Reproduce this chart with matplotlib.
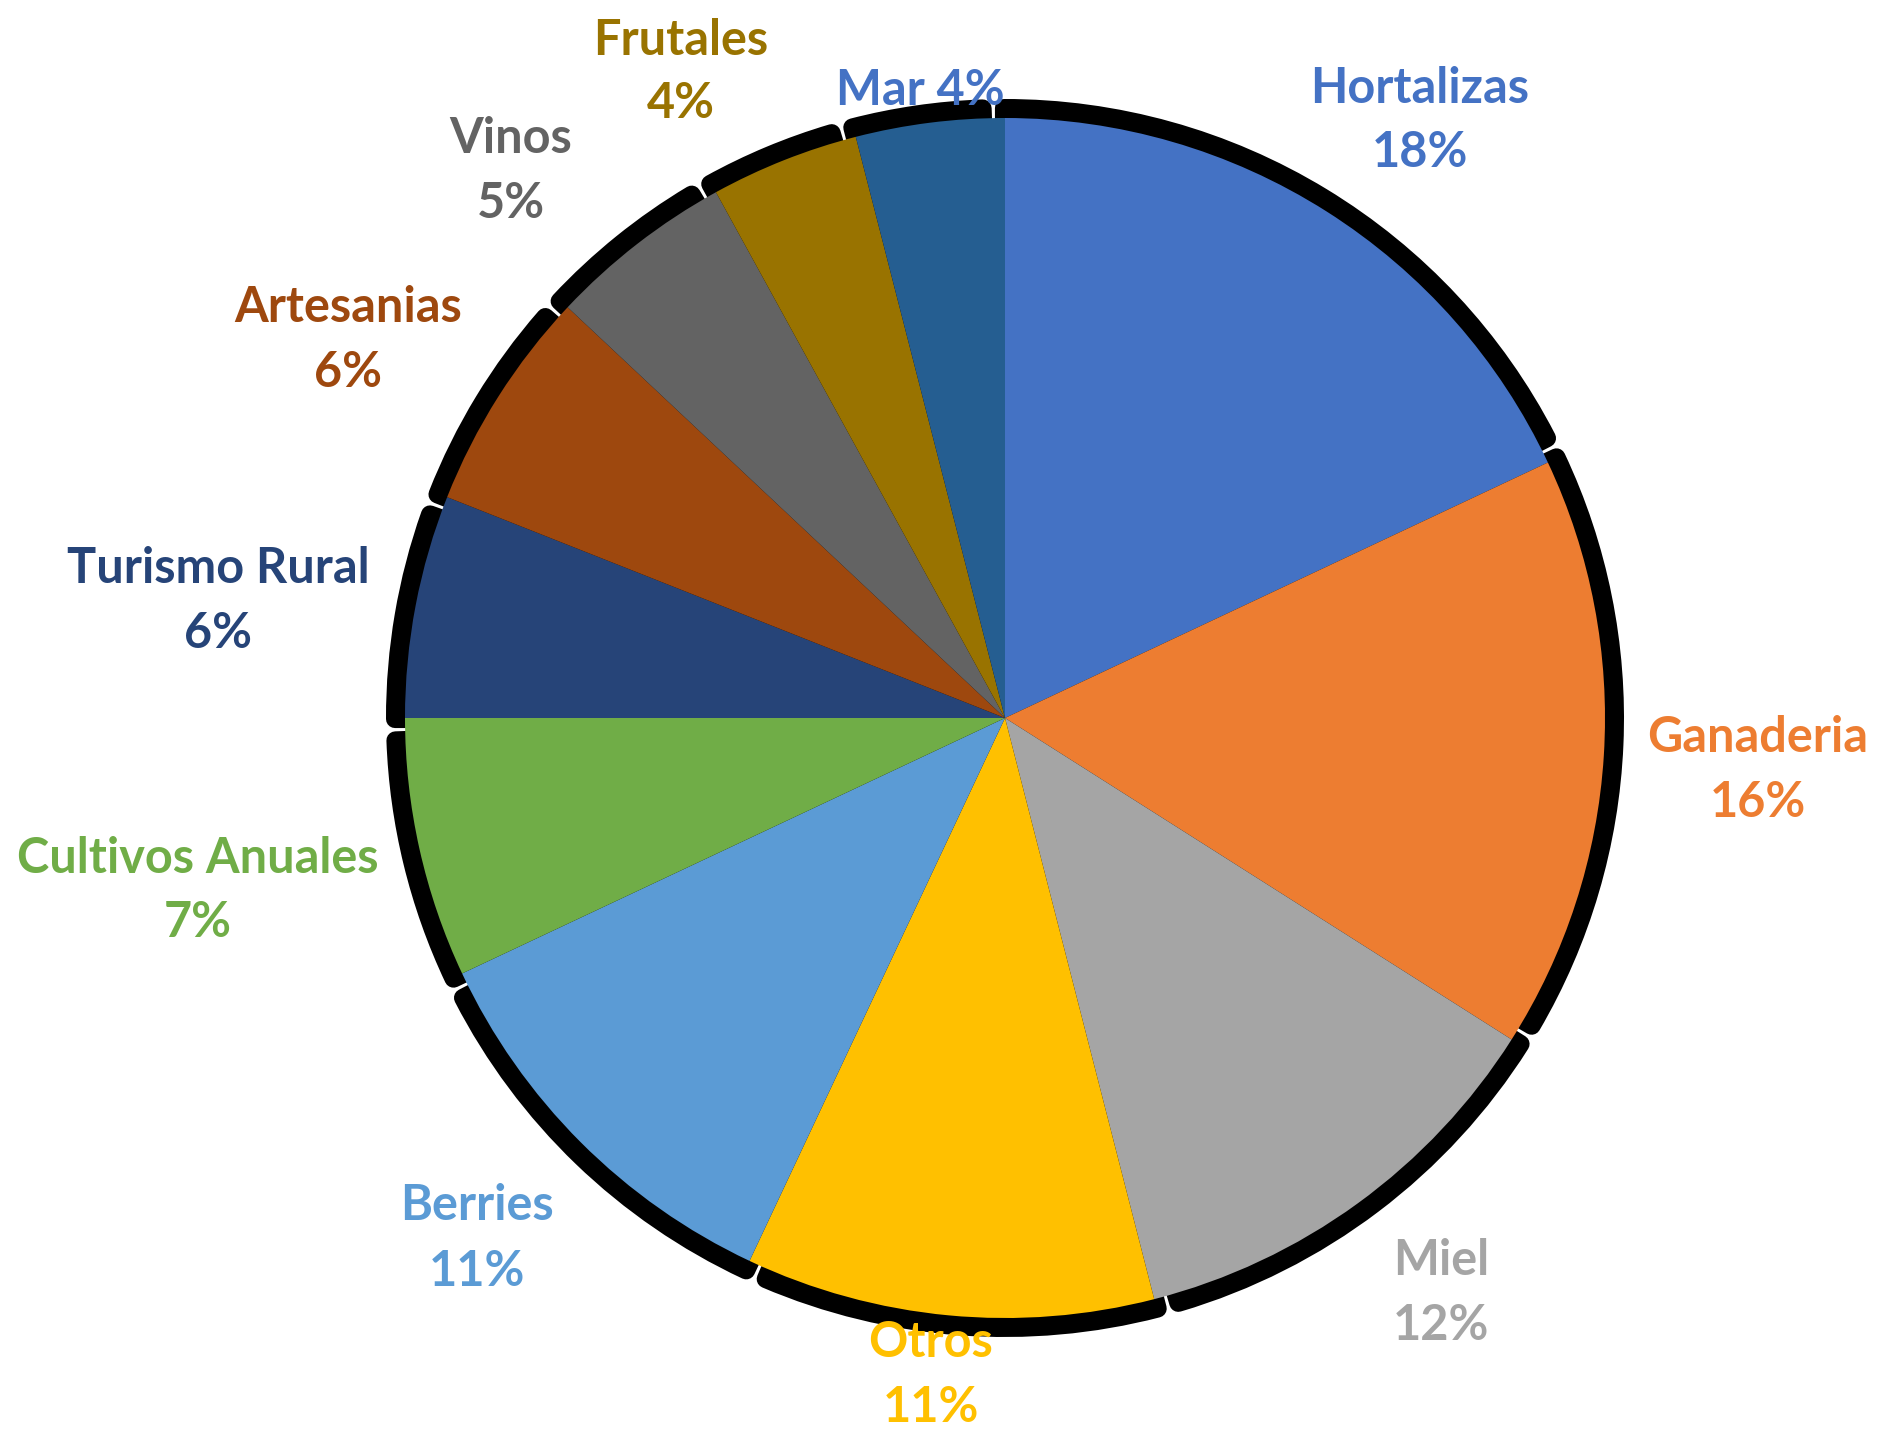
import matplotlib
matplotlib.use("Agg")
import matplotlib.pyplot as plt
from matplotlib.patches import Wedge

# Share of producers by sector (%)
categories = ["Hortalizas", "Ganaderia", "Miel", "Otros", "Berries",
              "Cultivos Anuales", "Turismo Rural", "Artesanias", "Vinos",
              "Frutales", "Mar"]
values = [18, 16, 12, 11, 11, 7, 6, 6, 5, 4, 4]

colors = ["#4472C4", "#ED7D31", "#A5A5A5", "#FFC000", "#5B9BD5",
          "#70AD47", "#264478", "#9E480E", "#636363", "#997300", "#255E91"]
label_colors = colors[:-1] + ["#4472C4"]

W, H = 1888, 1430
fig = plt.figure(figsize=(W / 100, H / 100), dpi=100)
ax = fig.add_axes([0, 0, 1, 1])

cx, cy, R = 1005, 712, 600

wedges, _ = ax.pie(values, colors=colors, startangle=90, counterclock=False,
                   radius=R, center=(cx, cy),
                   wedgeprops=dict(linewidth=0, antialiased=True))
for w in wedges:
    w.set_zorder(3)

# dark drop shadow behind every slice, with small breaks between slices
pt = 72 / 100  # points per pixel
for w in wedges:
    t1, t2 = w.theta1, w.theta2
    shift = 1.1
    gap = 1.0
    sh = Wedge((cx, cy), R + 10, t1 + gap + shift, t2 - gap + shift,
               facecolor="black", edgecolor="black", linewidth=18 * pt,
               joinstyle="round", zorder=1)
    ax.add_patch(sh)

# label positions (name baseline, percent baseline)
label_x = [1420, 1758, 1441, 931, 477, 198, 218, 348, 511, 681, None]
name_y = [103, 752, 1275, 1357, 1220, 873, 583, 322, 153, 55, None]
pct_y = [167, 817, 1340, 1422, 1286, 937, 648, 387, 218, 118, None]

font = dict(family=["Lato", "DejaVu Sans"], fontweight="bold", fontsize=35)

for i, (cat, v) in enumerate(zip(categories, values)):
    col = label_colors[i]
    if label_x[i] is None:
        ax.text(920, H - 105, f"{cat} {v}%", color=col, ha="center",
                va="baseline", zorder=5, **font)
        continue
    ax.text(label_x[i], H - name_y[i], cat, color=col, ha="center",
            va="baseline", zorder=5, **font)
    ax.text(label_x[i], H - pct_y[i], f"{v}%", color=col, ha="center",
            va="baseline", zorder=5, **font)

ax.set_xlim(0, W)
ax.set_ylim(0, H)
ax.set_aspect("equal")
ax.axis("off")

fig.savefig("out.png", dpi=100, facecolor="white")
